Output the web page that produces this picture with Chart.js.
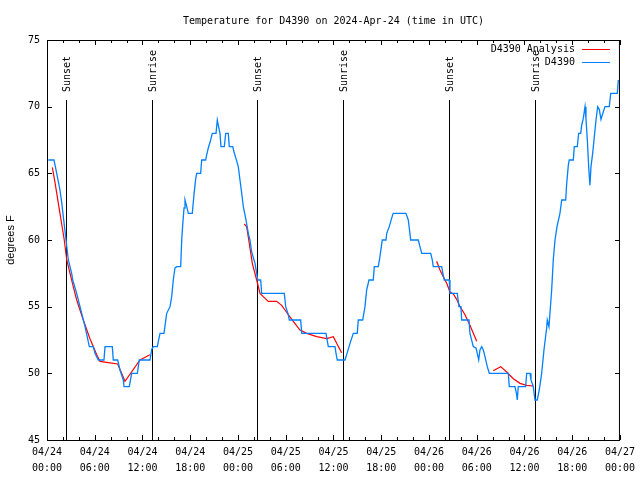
<!DOCTYPE html>
<html>
<head>
<meta charset="utf-8">
<script src="https://cdn.jsdelivr.net/npm/chart.js@4"></script>
<style>
  html, body { margin: 0; padding: 0; background: #fff; }
  #wrap { width: 640px; height: 480px; }
</style>
</head>
<body>
<div id="wrap"><canvas id="grafica" width="640" height="480"></canvas></div>
<script>
// horas desde 04/24 00:00 UTC
const obsHours = [
  0.16, 0.88, 1.22, 1.63, 1.85, 2.05, 2.39, 2.68, 3.10, 3.23,
  3.73, 4.36, 4.78, 5.32, 5.82, 6.03, 6.45, 7.16, 7.29, 8.21,
  8.33, 8.88, 9.17, 9.59, 9.68, 10.34, 10.64, 11.35, 11.60, 12.94,
  13.16, 13.36, 13.86, 14.20, 14.70, 15.04, 15.46, 15.67, 15.87, 16.08,
  16.30, 16.80, 16.93, 17.05, 17.22, 17.34, 17.56, 17.76, 18.26, 18.47,
  18.69, 18.81, 19.31, 19.44, 19.94, 20.07, 20.27, 20.57, 20.77, 21.24,
  21.40, 21.53, 21.74, 21.86, 22.28, 22.46, 22.78, 22.91, 23.34, 23.50,
  23.75, 24.04, 24.25, 24.47, 24.67, 25.01, 25.30, 25.51, 25.72, 26.14,
  26.35, 26.48, 26.85, 26.98, 29.82, 30.00, 30.32, 30.45, 31.88, 32.01,
  35.06, 35.35, 36.19, 36.32, 36.48, 37.45, 37.66, 38.08, 38.49, 38.99,
  39.12, 39.67, 39.96, 40.17, 40.46, 41.00, 41.13, 41.63, 41.84, 42.13,
  42.60, 42.69, 43.01, 43.44, 43.52, 45.11, 45.40, 45.61, 45.70, 46.66,
  46.87, 47.09, 48.22, 48.42, 48.54, 49.60, 49.72, 49.92, 50.55, 50.64,
  51.56, 51.77, 52.02, 52.11, 53.03, 53.15, 53.57, 53.91, 54.07, 54.25,
  54.41, 54.62, 54.83, 55.04, 55.33, 55.58, 57.97, 58.09, 58.81, 59.02,
  59.10, 59.22, 60.15, 60.28, 60.70, 60.82, 61.11, 61.32, 61.61, 61.86,
  62.16, 62.45, 62.79, 62.87, 63.08, 63.42, 63.62, 63.84, 64.09, 64.46,
  64.68, 65.18, 65.31, 65.51, 65.63, 66.14, 66.26, 66.64, 66.81, 67.07,
  67.19, 67.39, 67.61, 67.73, 67.90, 68.07, 68.23, 68.36, 68.57, 68.74,
  68.99, 69.20, 69.40, 69.62, 69.90, 70.12, 70.66, 70.84, 71.67, 71.79
];
const obsTemps = [
  66, 66, 65, 63.75, 62.8, 61.75, 60, 58.5, 57.5, 57,
  56, 54.5, 53.5, 52, 52, 51.5, 51, 51, 52, 52,
  51, 51, 50.25, 49.5, 49, 49, 50, 50, 51, 51,
  51.8, 52, 52, 53, 53, 54.5, 55, 55.75, 57, 57.9,
  58, 58, 60, 61.1, 62.4, 63, 62.5, 62, 62, 63.4,
  64.6, 65, 65, 66, 66, 66.4, 66.9, 67.5, 68, 68,
  69, 68.6, 68, 67, 67, 68, 68, 67, 67, 66.6,
  66.1, 65.5, 64.5, 63.5, 62.5, 61.5, 60.5, 60, 59.1, 58.25,
  57.5, 57, 57, 56, 56, 55, 54.4, 54, 54, 53,
  53, 52, 52, 51.5, 51, 51, 51.4, 52.25, 53, 53,
  54, 54, 55, 56.25, 57, 57, 58, 58, 58.75, 60,
  60, 60.5, 61, 61.9, 62, 62, 61.5, 60.5, 60, 60,
  59.5, 59, 59, 58.5, 58, 58, 57.6, 57, 57, 56,
  56, 55, 55, 54, 54, 53, 52, 51.9, 51.5, 51,
  51.75, 52, 51.75, 51.25, 50.5, 50, 50, 49, 49, 48.4,
  48, 49, 49, 50, 50, 49.5, 49, 48, 48, 48.75,
  50, 51.75, 53.4, 54, 53.5, 56.25, 58.5, 60, 61, 62,
  63, 63, 64.25, 65.6, 66, 66, 67, 67, 68, 68,
  68.6, 69.1, 70, 69.1, 67.5, 65.5, 64.1, 65.5, 66.5, 67.5,
  69, 70, 69.8, 69.05, 69.6, 70, 70, 71, 71, 72
];

// análisis (null = hueco)
const anaHours = [
  0.67, 1.01, 1.63, 2.17, 2.48, 3.30, 3.73, 4.56, 5.40, 6.25, 6.66, 7.70, 8.88, 9.80, 11.69, 12.94,
  18,
  24.79, 25.09, 25.42, 25.80, 26.35, 26.77, 27.18, 27.81, 28.86, 29.49, 29.91, 30.32, 30.95, 31.79,
  32.63, 33.89, 35.15, 35.98, 36.40, 37.03,
  43,
  48.97, 49.38, 49.80, 50.23, 50.64, 51.06, 51.48, 51.90, 52.53, 53.15, 54.00,
  55,
  56.08, 57.01, 57.77, 58.60, 59.44, 60.28, 61.11
];
const anaTemps = [
  65.45, 64.3, 62, 60, 58.5, 56.5, 55.5, 54, 52.6, 51.4, 50.9, 50.8, 50.7, 49.4, 51, 51.4,
  null,
  61.2, 61, 59.75, 58.25, 57, 56, 55.75, 55.4, 55.4, 55.1, 54.75, 54.4, 53.9, 53.25,
  53, 52.75, 52.6, 52.75, 52.25, 51.55,
  null,
  58.4, 57.75, 57.25, 56.75, 56.1, 55.95, 55.55, 55, 54.4, 53.6, 52.4,
  null,
  50.2, 50.5, 50.1, 49.6, 49.25, 49.1, 49.05
];

const sunHours = [2.4, 13.2, 26.4, 37.2, 50.5, 61.3];
const sunLabels = ['Sunset', 'Sunrise', 'Sunset', 'Sunrise', 'Sunset', 'Sunrise'];

const xTickDates = ['04/24', '04/24', '04/24', '04/24', '04/25', '04/25', '04/25', '04/25', '04/26', '04/26', '04/26', '04/26', '04/27'];
const xTickTimes = ['00:00', '06:00', '12:00', '18:00', '00:00', '06:00', '12:00', '18:00', '00:00', '06:00', '12:00', '18:00', '00:00'];

const fuente = "'DejaVu Sans Mono', 'Liberation Mono', monospace";
Chart.defaults.font.family = fuente;
Chart.defaults.font.size = 10;
Chart.defaults.color = '#000';

// marco, marcas hacia dentro, amaneceres/atardeceres y leyenda
const marcoPlugin = {
  id: 'marco',
  beforeDatasetsDraw(chart) {
    const ctx = chart.ctx;
    const area = chart.chartArea;
    const x = chart.scales.x;
    ctx.save();
    ctx.strokeStyle = '#000';
    ctx.lineWidth = 1;
    ctx.fillStyle = '#000';
    ctx.font = '10px ' + fuente;
    sunHours.forEach((h, i) => {
      const px = Math.round(x.getPixelForValue(h)) + 0.5;
      ctx.beginPath();
      ctx.moveTo(px, area.top + 60);
      ctx.lineTo(px, area.bottom);
      ctx.stroke();
      ctx.save();
      ctx.translate(px + 1, area.top + 52);
      ctx.rotate(-Math.PI / 2);
      ctx.textAlign = 'left';
      ctx.textBaseline = 'middle';
      ctx.fillText(sunLabels[i], 0, 0);
      ctx.restore();
    });
    ctx.restore();
  },
  afterDatasetsDraw(chart) {
    const ctx = chart.ctx;
    const area = chart.chartArea;
    const x = chart.scales.x;
    const y = chart.scales.y;
    ctx.save();
    ctx.strokeStyle = '#000';
    ctx.lineWidth = 1;
    ctx.strokeRect(area.left + 0.5, area.top + 0.5, area.right - area.left - 1, area.bottom - area.top);
    ctx.beginPath();
    for (let h = x.min; h <= x.max; h += 2) {
      const px = Math.round(x.getPixelForValue(h)) + 0.5;
      const len = (h % 6 === 0) ? 5 : 3;
      ctx.moveTo(px, area.bottom);
      ctx.lineTo(px, area.bottom - len);
      ctx.moveTo(px, area.top);
      ctx.lineTo(px, area.top + len);
    }
    y.ticks.forEach(t => {
      const py = Math.round(y.getPixelForValue(t.value)) + 0.5;
      ctx.moveTo(area.left, py);
      ctx.lineTo(area.left + 5, py);
      ctx.moveTo(area.right, py);
      ctx.lineTo(area.right - 5, py);
    });
    ctx.stroke();

    // leyenda
    ctx.font = '10px ' + fuente;
    ctx.textAlign = 'right';
    ctx.textBaseline = 'middle';
    chart.data.datasets.forEach((ds, i) => {
      const ly = area.top + 9 + i * 13;
      ctx.fillStyle = '#000';
      ctx.fillText(ds.label, area.right - 45, ly);
      ctx.strokeStyle = ds.borderColor;
      ctx.beginPath();
      ctx.moveTo(area.right - 38, Math.round(ly) + 0.5);
      ctx.lineTo(area.right - 10, Math.round(ly) + 0.5);
      ctx.stroke();
    });
    ctx.restore();
  }
};

const ctx = document.getElementById('grafica').getContext('2d');
const myChart = new Chart(ctx, {
  type: 'line',
  data: {
    datasets: [
      {
        label: 'D4390 Analysis',
        data: anaHours.map((h, i) => ({ x: h, y: anaTemps[i] })),
        borderColor: 'rgb(255, 0, 0)',
        borderWidth: 1.2,
        pointRadius: 0,
        spanGaps: false,
        order: 2
      },
      {
        label: 'D4390',
        data: obsHours.map((h, i) => ({ x: h, y: obsTemps[i] })),
        borderColor: 'rgb(0, 128, 255)',
        borderWidth: 1.3,
        pointRadius: 0,
        order: 1
      }
    ]
  },
  options: {
    responsive: false,
    animation: false,
    layout: { padding: { right: 20 } },
    plugins: {
      legend: { display: false },
      tooltip: { enabled: false },
      title: {
        display: true,
        text: 'Temperature for D4390 on 2024-Apr-24 (time in UTC)',
        fullSize: false,
        font: { size: 10, weight: 'normal' },
        padding: { top: 15, bottom: 13 }
      }
    },
    scales: {
      x: {
        type: 'linear',
        min: 0,
        max: 72,
        grid: { display: false, drawTicks: false },
        border: { display: false },
        ticks: {
          stepSize: 6,
          autoSkip: false,
          maxRotation: 0,
          padding: 5,
          font: { size: 10, lineHeight: 1.55 },
          callback: (value, index) => [xTickDates[index], xTickTimes[index]]
        },
        afterFit: scale => { scale.height = 40; }
      },
      y: {
        min: 45,
        max: 75,
        grid: { display: false, drawTicks: false },
        border: { display: false },
        ticks: { stepSize: 5, padding: 7 },
        title: {
          display: true,
          text: 'degrees F',
          font: { family: "'Liberation Sans', sans-serif", size: 11 },
          padding: { top: 4, bottom: 0 }
        },
        afterFit: scale => { scale.width = 47; }
      }
    }
  },
  plugins: [marcoPlugin]
});
</script>
</body>
</html>
